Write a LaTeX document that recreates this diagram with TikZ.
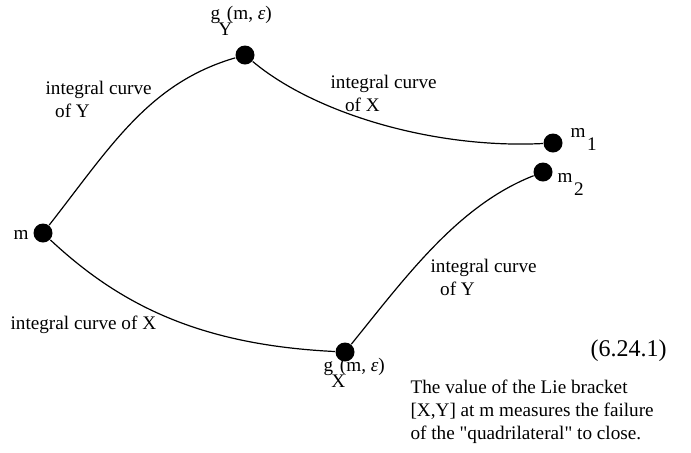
\documentclass[tikz,border=0pt]{standalone}
\usepackage{fontspec}
\setmainfont{Liberation Serif}[Ligatures=TeXOff]
\newcommand{\flowat}[1]{g\hspace{-0.1em}\rlap{\raisebox{-0.88em}{#1}}\hspace{0.45em}(m, \textit{ε})}
\newcommand{\msub}[1]{m\hspace{0.08em}\raisebox{-0.68em}{#1}}

\begin{document}
\begin{tikzpicture}[x=0.5pt, y=-0.5pt, line width=0.6pt,
    every node/.style={font=\fontsize{9.6}{11.5}\selectfont},
    dot/.style={circle, fill=black, inner sep=0pt, minimum size=9.5pt},
    lbl/.style={anchor=base west, inner sep=0pt, align=left}]
    \useasboundingbox (0,0) rectangle (691,452);

    \node[dot] (m)    at (43,233)  {};
    \node[dot] (gY)   at (245,55)  {};
    \node[dot] (gX)   at (345,352) {};
    \node[dot] (mone) at (553,143) {};
    \node[dot] (mtwo) at (543,172) {};

    \draw (m) .. controls (111,146) and (149,83) .. (gY);
    \draw (gY) .. controls (314,113) and (433,149) .. (mone);
    \draw (m) .. controls (120,305) and (200,345) .. (gX);
    \draw (gX) .. controls (408,274) and (459,205) .. (mtwo);

    % labels of the points
    \node[lbl] (lblm)    at (13,239)  {m};
    \node[lbl] (lblgY)   at (210,19)  {\flowat{Y}};
    \node[lbl] (lblgX)   at (323,371) {\flowat{X}};
    \node[lbl] (lblmone) at (570,137) {\msub{1}};
    \node[lbl] (lblmtwo) at (557,182) {\msub{2}};

    % base of a two-line node = its last line
    \node[lbl] (curveYa) at (45,117)  {integral curve\\\hspace*{0.5em}of Y};
    \node[lbl] (curveXa) at (330,111) {integral curve\\\hspace*{0.75em}of X};
    \node[lbl] (curveYb) at (430,295) {integral curve\\\hspace*{0.5em}of Y};
    \node[lbl] (curveXb) at (10,329)  {integral curve of X};
    \node[lbl, font=\fontsize{12}{14}\selectfont] (eqno) at (590,356) {(6.24.1)};
    \node[lbl] (note)    at (410,439) {The value of the Lie bracket\\{}[X,Y] at m measures the failure\\of the "quadrilateral" to close.};
  \end{tikzpicture}
\end{document}
